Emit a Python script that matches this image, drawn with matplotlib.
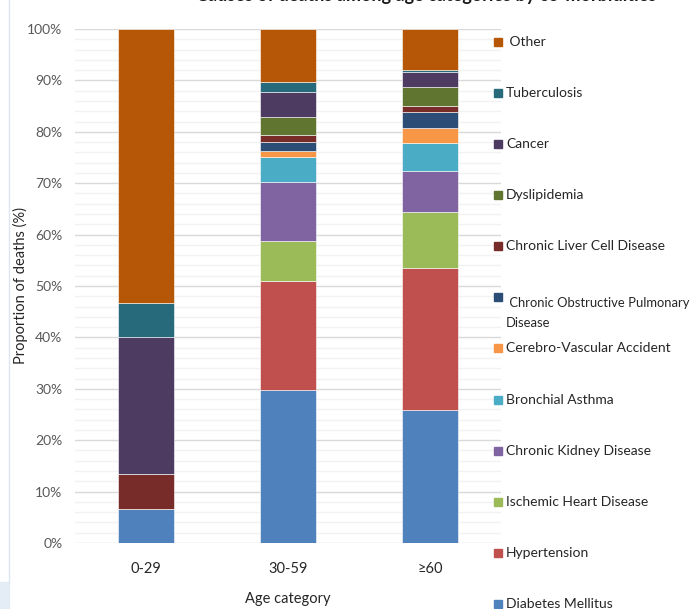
import matplotlib
import matplotlib.pyplot as plt
from matplotlib.patches import Rectangle
from matplotlib.ticker import MultipleLocator, PercentFormatter
import numpy as np

matplotlib.rc('font', family=['Lato', 'DejaVu Sans'], size=10)

# Data (percent of deaths)
age_groups = ['0-29', '30-59', '≥60']
causes = ['Diabetes Mellitus', 'Hypertension', 'Ischemic Heart Disease',
          'Chronic Kidney Disease', 'Bronchial Asthma', 'Cerebro-Vascular Accident',
          'Chronic Obstructive Pulmonary Disease', 'Chronic Liver Cell Disease',
          'Dyslipidemia', 'Cancer', 'Tuberculosis', 'Other']
diabetes = [6.7, 29.8, 25.9]
hypertension = [0.0, 21.2, 27.6]
ischemic = [0.0, 7.8, 10.8]
kidney = [0.0, 11.4, 8.1]
asthma = [0.0, 4.9, 5.4]
cva = [0.0, 1.2, 3.0]
copd = [0.0, 1.7, 3.1]
liver = [6.7, 1.3, 1.1]
dyslipidemia = [0.0, 3.6, 3.8]
cancer = [26.6, 4.9, 2.9]
tuberculosis = [6.6, 1.9, 0.3]
other = [53.4, 10.3, 8.0]
series = [diabetes, hypertension, ischemic, kidney, asthma, cva, copd, liver,
          dyslipidemia, cancer, tuberculosis, other]
colors = ['#4F81BD', '#C0504D', '#9BBB59', '#8064A2', '#4BACC6', '#F79646',
          '#2C4D75', '#772C2A', '#5F7530', '#4D3B62', '#276A7C', '#B65708']
legend_labels = ['Diabetes Mellitus', 'Hypertension', 'Ischemic Heart Disease',
                 'Chronic Kidney Disease', 'Bronchial Asthma', 'Cerebro-Vascular Accident',
                 ' Chronic Obstructive Pulmonary\nDisease', 'Chronic Liver Cell Disease',
                 'Dyslipidemia', 'Cancer', 'Tuberculosis', ' Other']

fig = plt.figure(figsize=(6.97, 6.09), dpi=100)
ax = fig.add_axes([75/697, 66/609, 426/697, 514/609])

x = np.arange(len(age_groups))
bottom = np.zeros(len(age_groups))
for vals, col in zip(series, colors):
    vals = np.array(vals)
    ax.bar(x, vals, 0.4, bottom=bottom, color=col, edgecolor='white',
           linewidth=0.4, zorder=3)
    bottom += vals

ax.set_xlim(-0.5, 2.5)
ax.set_ylim(0, 100)
ax.yaxis.set_major_locator(MultipleLocator(10))
ax.yaxis.set_minor_locator(MultipleLocator(2))
ax.yaxis.set_major_formatter(PercentFormatter(decimals=0))
ax.grid(True, which='major', axis='y', color='#D9D9D9', linewidth=1, zorder=0)
ax.grid(True, which='minor', axis='y', color='#F2F2F2', linewidth=1, zorder=0)
for s in ax.spines.values():
    s.set_visible(False)
ax.tick_params(axis='both', which='both', length=0, colors='#404040')
ax.tick_params(axis='y', pad=9, labelsize=10, labelcolor='#595959')
ax.tick_params(axis='x', pad=14, labelsize=10.5, labelcolor='#262626')
ax.set_xticks(x)
ax.set_xticklabels(age_groups)
ax.set_ylabel('Proportion of deaths (%)', fontsize=10.5, color='#262626')
ax.yaxis.set_label_coords(-47/426, 0.5)
ax.set_xlabel('Age category', fontsize=10.5, color='#262626', labelpad=11)

# Title, cut off at the top in the original
fig.text(426/697, 1 - 1/609, 'Causes of deaths among age categories by co-morbidities',
         ha='center', va='baseline', fontsize=13, fontweight='bold', color='#1a1a1a')

# Legend, Excel style, top entry first
legend_y = [42, 93, 144, 195, 246, 297, 348, 400, 451, 502, 553, 604]
for i, idx in enumerate(range(len(causes) - 1, -1, -1)):
    ypix = legend_y[i]
    label = legend_labels[idx]
    fig.patches.append(Rectangle((494/697, 1 - (ypix + 4)/609), 8/697, 8/609,
                                 transform=fig.transFigure, color=colors[idx]))
    fig.text(506/697, 1 - ypix/609, label, ha='left',
             va='top' if '\n' in label else 'center',
             fontsize=9.4 if '\n' in label else 10, color='#262626', linespacing=1.8)

# Frame remnants at the left edge
fig.add_artist(plt.Line2D([9/697, 9/697], [27/609, 1], transform=fig.transFigure,
                          color='#DCE6F2', linewidth=1))
fig.patches.append(Rectangle((0, 0), 9/697, 27/609, transform=fig.transFigure,
                             color='#E4ECF5'))

fig.savefig('out.png', dpi=100)
